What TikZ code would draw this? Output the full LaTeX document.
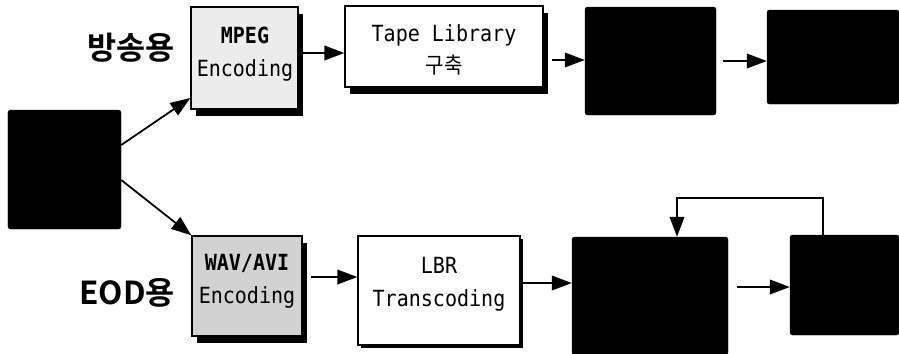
\documentclass[tikz,border=0pt]{standalone}
\usepackage{fontspec}
\setmainfont{DejaVu Sans Mono}
\newfontfamily\kr{Noto Sans CJK KR}[FakeStretch=0.9]
\newfontfamily\krb{Noto Sans CJK KR Bold}
\newfontfamily\mono{DejaVu Sans Mono}[FakeStretch=0.9]
\usetikzlibrary{arrows.meta,shadows}
\begin{document}
\begin{tikzpicture}[x=0.3mm,y=-0.3mm,
  box/.style={draw=black,line width=1.2pt,rectangle,inner sep=0pt},
  shadowbox/.style={box,drop shadow={shadow xshift=1.6mm,shadow yshift=-2mm,opacity=1,fill=black}},
  thinshadow/.style={box,drop shadow={shadow xshift=1mm,shadow yshift=-0.8mm,opacity=1,fill=black}},
  blackbox/.style={rectangle,fill=black,draw=black,rounded corners=0.8mm,inner sep=0pt},
  txt/.style={font=\mono\fontsize{19}{28}\selectfont,align=center,inner sep=0pt},
  lab/.style={font=\krb\fontsize{27}{30}\selectfont,inner sep=0pt},
  arr/.style={line width=1.5pt,-{Triangle[length=6mm,width=4.4mm]}},
]
\useasboundingbox (0,0) rectangle (899,353);

% source
\node[blackbox,minimum width=33.9mm,minimum height=35.7mm] (src) at (64.5,169.5) {};

% broadcast line
\node[shadowbox,fill=gray!15,minimum width=32.1mm,minimum height=30.6mm] (mpeg) at (244.5,58) {};
\node[txt] (mpegt) at (245,54) {\textbf{MPEG}\\Encoding};
\node[shadowbox,fill=white,minimum width=59.4mm,minimum height=24.3mm] (tape) at (444,46.5) {};
\node[txt] (tapet) at (444,50) {Tape Library\\{\kr 구축}};
\node[blackbox,minimum width=39.3mm,minimum height=32.4mm] (b3) at (650.5,61) {};
\node[blackbox,minimum width=39.6mm,minimum height=28.2mm] (b4) at (833,57) {};
\node[lab] (l1) at (131,48) {방송용};

% EOD line
\node[shadowbox,fill=gray!35,minimum width=33mm,minimum height=30mm] (wav) at (247,286) {};
\node[txt] (wavt) at (247,281) {\textbf{WAV/AVI}\\Encoding};
\node[thinshadow,fill=white,minimum width=48.6mm,minimum height=32.7mm] (lbr) at (439,290.5) {};
\node[txt] (lbrt) at (439,284) {LBR\\Transcoding};
\node[blackbox,minimum width=46.8mm,minimum height=35.4mm] (c3) at (650,296) {};
\node[blackbox,minimum width=32.7mm,minimum height=30mm] (c4) at (844.5,285) {};
\node[lab] (l2) at (127,293) {EOD용};

% connectors
\draw[arr] (src.east |- 0,145) -- (mpeg.west |- 0,98);
\draw[arr] (src.east |- 0,180) -- (wav.north west);
\draw[arr] (mpeg.east |- 0,53) -- (tape.west |- 0,53);
\draw[arr,shorten <=2.4mm] (tape.east |- 0,60) -- (b3.west |- 0,60);
\draw[arr,shorten <=2mm] (b3.east |- 0,61) -- (b4.west |- 0,61);
\draw[arr,shorten <=2.4mm] (wav.east |- 0,277) -- (lbr.west |- 0,277);
\draw[arr,shorten <=0.6mm] (lbr.east |- 0,283) -- (c3.west |- 0,283);
\draw[arr,shorten <=2.7mm] (c3.east |- 0,287) -- (c4.west |- 0,287);
\draw[arr] (c4.north -| 823,0) -- (823,198) -- (677,198) -- (c3.north -| 677,0);
\end{tikzpicture}
\end{document}
